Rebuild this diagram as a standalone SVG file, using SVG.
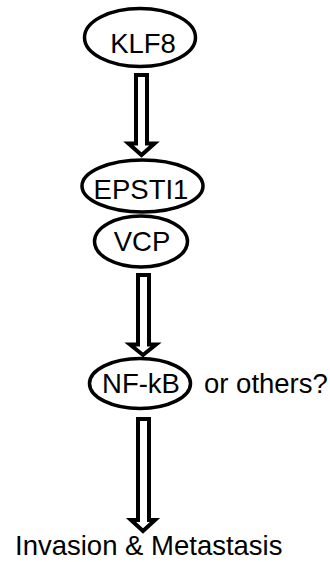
<svg xmlns="http://www.w3.org/2000/svg" width="330" height="562" viewBox="0 0 330 562">
<style>
.node{fill:#fff;stroke:#000;stroke-width:3.5}
.lbl{font-family:"Liberation Sans",Arial,sans-serif;font-size:27.5px;fill:#000}
.arr{fill:#fff;stroke:#000;stroke-width:4;stroke-linejoin:miter}
</style>
<rect width="330" height="562" fill="#fff"/>
<g id="connectors">
<path class="arr" d="M136,75 H147 V143.5 H154.5 L141.5,155 L128.5,143.5 H136 Z"/>
<path class="arr" d="M138,275 H149 V344.5 H156 L143,355 L130,344.5 H138 Z"/>
<path class="arr" d="M138,419 H149 V520 H155 L143,531 L131,520 H138 Z"/>
</g>
<g id="klf8">
<ellipse class="node" cx="140" cy="37.5" rx="55.5" ry="29"/>
<text class="lbl" x="143" y="53" text-anchor="middle">KLF8</text>
</g>
<g id="vcp">
<ellipse class="node" cx="141" cy="241.5" rx="46.5" ry="25.5"/>
<text class="lbl" x="142" y="251" text-anchor="middle">VCP</text>
</g>
<g id="epsti1">
<ellipse class="node" cx="142.5" cy="186" rx="60.5" ry="26"/>
<text class="lbl" x="141" y="199" text-anchor="middle">EPSTI1</text>
</g>
<g id="nfkb">
<ellipse class="node" cx="140" cy="383.5" rx="50.5" ry="25"/>
<text class="lbl" x="141" y="393" text-anchor="middle">NF-kB</text>
</g>
<g id="others">
<text class="lbl" x="204" y="393">or others?</text>
</g>
<g id="invasion">
<text class="lbl" x="15" y="555">Invasion &amp; Metastasis</text>
</g>
</svg>
